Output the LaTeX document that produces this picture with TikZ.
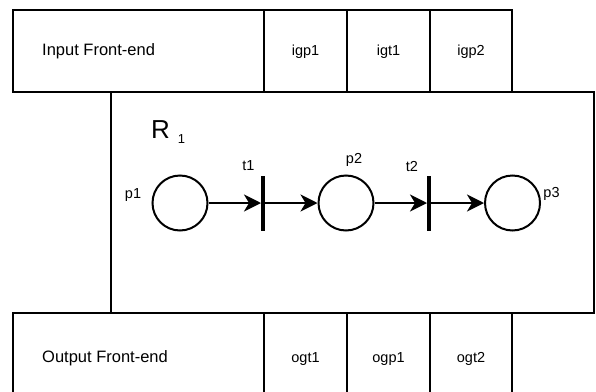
\documentclass[tikz,border=0pt]{standalone}
\usepackage{fontspec}
\setmainfont{Liberation Sans}
\usetikzlibrary{arrows.meta,fit}
\begin{document}
\begin{tikzpicture}[x=1pt,y=-1pt,
  cell/.style={draw,line width=2.5pt,rectangle,inner sep=0pt,outer sep=0pt},
  celltext/.style={inner sep=0pt,font=\fontsize{14.5}{17}\selectfont},
  bigtext/.style={anchor=west,inner sep=0pt,font=\fontsize{16.5}{19}\selectfont},
  place/.style={draw,circle,line width=2pt,minimum size=55pt,inner sep=0pt},
  trans/.style={fill=black,rectangle,minimum width=4pt,minimum height=55pt,inner sep=0pt,outer sep=0pt},
  lbl/.style={inner sep=0pt,font=\fontsize{14.5}{17}\selectfont},
  arc/.style={line width=2pt,-{Stealth[length=17pt,width=17pt,inset=5pt]}}
]
\useasboundingbox (0,0) rectangle (596,391);
\clip (0,0) rectangle (596,391);
% region box
\node[cell,fit={(111,92) (594,313)}] (reg) {};
% top row
\node[cell,fit={(13,10) (264,92)}] (infe) {};
\node[cell,fit={(264,10) (347,92)}] (igpa) {};
\node[cell,fit={(347,10) (430,92)}] (igta) {};
\node[cell,fit={(430,10) (512,92)}] (igpb) {};
\node[bigtext] (infetxt) at (42,51) {Input Front-end};
\node[celltext] (igpatxt) at (305.5,52) {igp1};
\node[celltext] (igtatxt) at (388.5,52) {igt1};
\node[celltext] (igpbtxt) at (471,52) {igp2};
% bottom row
\node[cell,fit={(13,313) (264,403)}] (outfe) {};
\node[cell,fit={(264,313) (347,403)}] (ogta) {};
\node[cell,fit={(347,313) (430,403)}] (ogpa) {};
\node[cell,fit={(430,313) (512,403)}] (ogtb) {};
\node[bigtext] (outfetxt) at (42,358) {Output Front-end};
\node[celltext] (ogtatxt) at (305.5,359) {ogt1};
\node[celltext] (ogpatxt) at (388.5,359) {ogp1};
\node[celltext] (ogtbtxt) at (471,359) {ogt2};
% region label
\node[anchor=base west,inner sep=0pt] (rname) at (151,138)
  {{\fontsize{26}{29}\selectfont R}\hspace{8pt}\raisebox{-5pt}{\fontsize{13}{15}\selectfont 1}};
% petri net
\node[place] (p1) at (180,203) {};
\node[trans] (t1) at (263,203) {};
\node[place] (p2) at (346,203) {};
\node[trans] (t2) at (429,203) {};
\node[place] (p3) at (512.5,203) {};
\draw[arc] (p1) -- (t1);
\draw[arc] (t1) -- (p2);
\draw[arc] (p2) -- (t2);
\draw[arc] (t2) -- (p3);
\node[lbl] (p1l) at (133,195) {p1};
\node[lbl] (t1l) at (248.5,166) {t1};
\node[lbl] (p2l) at (354,160) {p2};
\node[lbl] (t2l) at (412,166) {t2};
\node[lbl] (p3l) at (551.5,194) {p3};
\end{tikzpicture}
\end{document}
